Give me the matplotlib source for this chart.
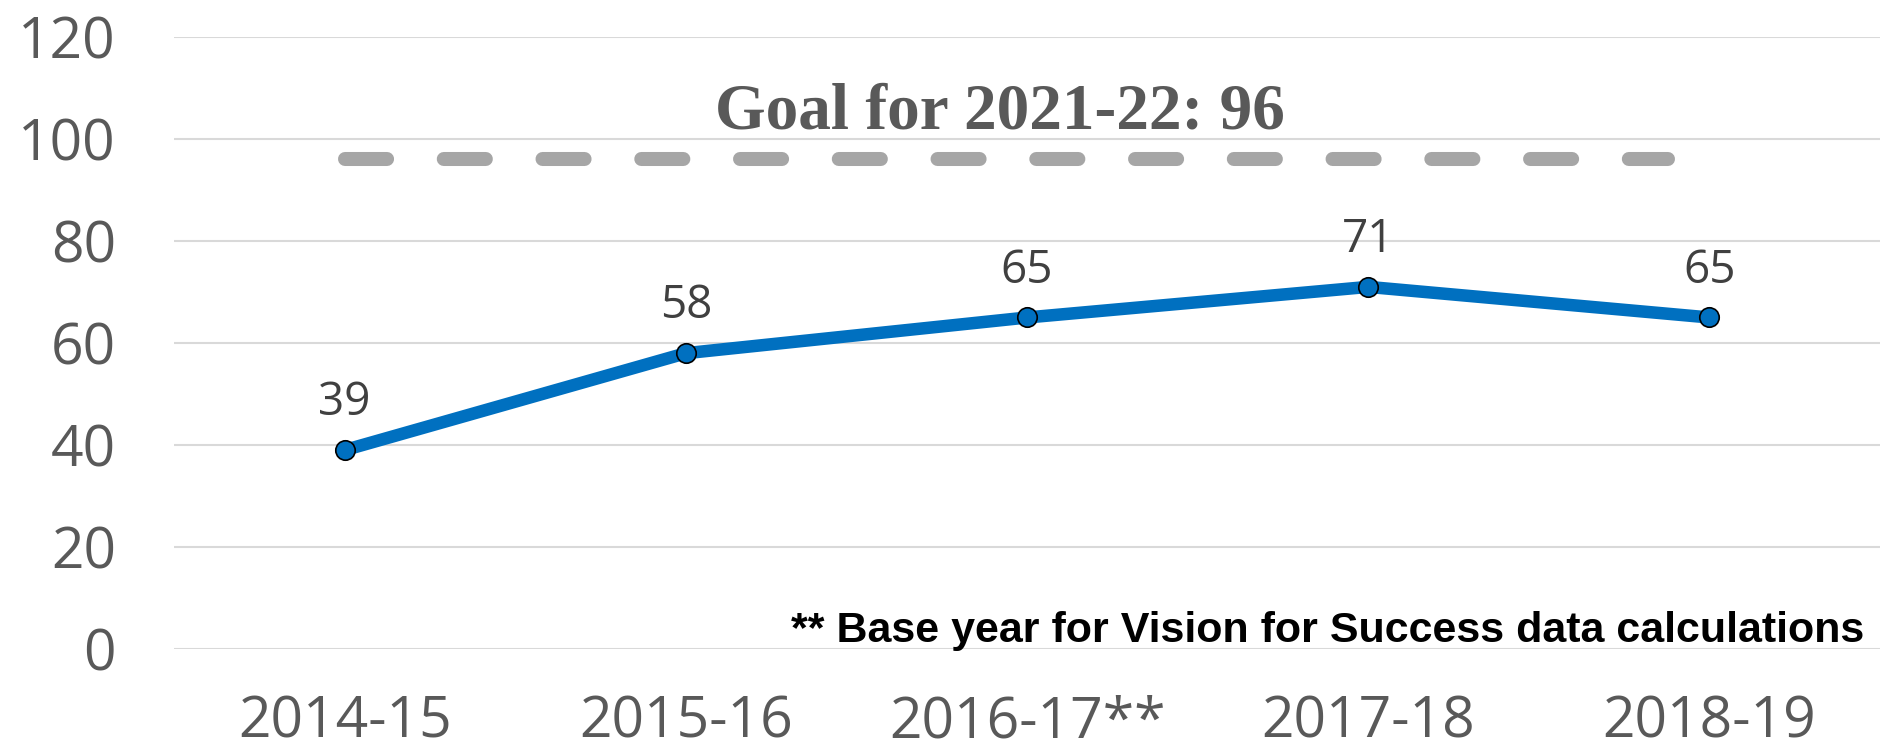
import matplotlib.pyplot as plt

# data
years = ["2014-15", "2015-16", "2016-17**", "2017-18", "2018-19"]
values = [39, 58, 65, 71, 65]
goal = 96
goal_label = "Goal for 2021-22: 96"
note = "** Base year for Vision for Success data calculations"
yticks = [0, 20, 40, 60, 80, 100, 120]

grey = "#595959"
blue = "#0070C0"

fig = plt.figure(figsize=(18.8, 7.53), dpi=100)
ax = fig.add_axes([0.0926, 0.1381, 0.9074, 0.8128])

x = list(range(len(years)))

# gridlines
for t in yticks:
    ax.axhline(t, color="#D9D9D9", lw=1.5, zorder=0)

# goal dashed line
ax.hlines(goal, 0.0, 3.88, colors="#A6A6A6", lw=10.1, linestyles=(0, (3.0, 4.04)),
          capstyle="round", zorder=1)
ax.annotate(goal_label, xy=(1.92, goal), xytext=(0, 22), textcoords="offset points",
            ha="center", va="baseline", fontsize=47, fontweight="bold",
            family="Liberation Serif", color=grey)

# main line
ax.plot(x, values, color=blue, lw=9, marker="o", markersize=14,
        markerfacecolor=blue, markeredgecolor="black", markeredgewidth=1.2,
        zorder=3, clip_on=False)

for xi, v in zip(x, values):
    ax.annotate(str(v), xy=(xi, v), xytext=(0, 25), textcoords="offset points",
                ha="center", va="baseline", fontsize=33, family="Open Sans",
                color="#404040")

ax.text(0.991, 0.011, note, transform=ax.transAxes, ha="right", va="baseline",
        fontsize=31, fontweight="bold", family="Liberation Sans", color="black")

ax.set_xlim(-0.5, 4.5)
ax.set_ylim(0, 120)
ax.set_xticks(x)
ax.set_xticklabels(years, family="Open Sans", fontsize=41, color=grey)
ax.set_yticks(yticks)
ax.set_yticklabels([str(t) for t in yticks], family="Open Sans", fontsize=41, color=grey)
ax.tick_params(axis="both", length=0)
ax.tick_params(axis="x", pad=33)
ax.tick_params(axis="y", pad=42)

for s in ax.spines.values():
    s.set_visible(False)

plt.savefig("out.png", dpi=100)
